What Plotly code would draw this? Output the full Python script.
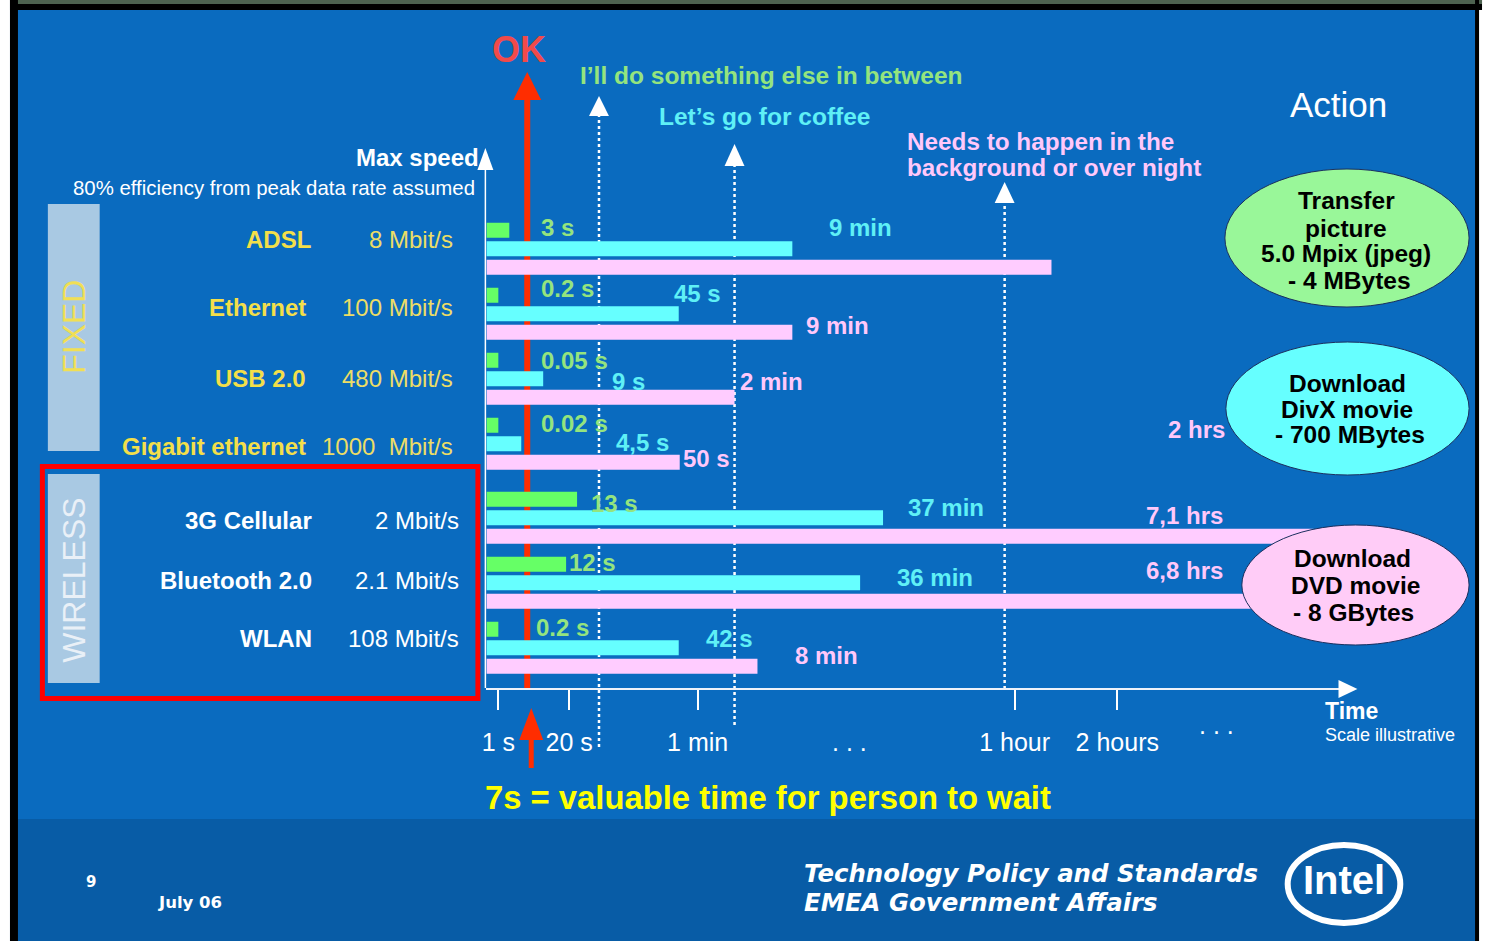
import plotly.graph_objects as go

W, H = 1490, 941

# ---- data -----------------------------------------------------------------
techs = ["ADSL", "Ethernet", "USB 2.0", "Gigabit ethernet",
         "3G Cellular", "Bluetooth 2.0", "WLAN"]
speeds = ["8 Mbit/s", "100 Mbit/s", "480 Mbit/s", "1000  Mbit/s",
          "2 Mbit/s", "2.1 Mbit/s", "108 Mbit/s"]
is_wireless = [False, False, False, False, True, True, True]

# transfer times as printed next to the bars
picture_time = ["3 s", "0.2 s", "0.05 s", "0.02 s", "13 s", "12 s", "0.2 s"]
divx_time = ["9 min", "45 s", "9 s", "4,5 s", "37 min", "36 min", "42 s"]
dvd_time = ["2 hrs", "9 min", "2 min", "50 s", "7,1 hrs", "6,8 hrs", "8 min"]

# bar lengths on the illustrative (non-linear) time scale
picture_len = [23, 12, 12, 12, 91, 80, 12]
divx_len = [307, 193, 57, 35, 398, 375, 193]
dvd_len = [567, 307, 249, 194, 830, 800, 272]

# time axis ticks on the same illustrative scale
tick_vals = [12, 83, 212, 530, 633]
tick_text = ["1 s", "20 s", "1 min", "1 hour", "2 hours"]

# ---- styling --------------------------------------------------------------
BG = "#0a6bbf"
FOOT = "#085ca6"
GREEN_BAR, CYAN_BAR, PINK_BAR = "#66ff66", "#66ffff", "#ffccff"
GREEN_TXT, CYAN_TXT, PINK_TXT = "#94e47e", "#5ff0f6", "#ffc8fa"
YELLOW = "#f3df4a"
YELLOW_2 = "#ecdd66"
RED = "#ff2d00"
SANS = "Liberation Sans, Arial, sans-serif"
VERD = "DejaVu Sans, Verdana, sans-serif"

# wireless rows sit a little further down than the fixed ones
GROUP_GAP = 0.137
ROW_PX, ROW0_PX = 65.0, 248.75   # row pitch / first row centre on the page

# label anchors for the printed times (left x, centre y) in page pixels
picture_lbl = [(540, 227), (540, 288), (540, 361), (540, 423), (590, 503), (568, 562), (535, 627)]
divx_lbl = [(829, 227), (673, 293), (611, 381), (615, 443), (908, 508), (897, 577), (705, 638)]
dvd_lbl = [(1169, 429), (806, 325), (739, 381), (682, 459), (1147, 515), (1147, 570), (795, 655)]

X_OFF = 2  # horizontal page offset compensation


def px(x):
    return (x - X_OFF) / W


def py(y):
    return 1 - y / H


row_pos = [i + (GROUP_GAP if w else 0.0) for i, w in enumerate(is_wireless)]

fig = go.Figure()

series = [
    ("Transfer picture", picture_len, GREEN_BAR),
    ("Download DivX movie", divx_len, CYAN_BAR),
    ("Download DVD movie", dvd_len, PINK_BAR),
]
for name, vals, col in series:
    fig.add_trace(go.Bar(
        y=row_pos, x=vals, orientation="h", name=name,
        customdata=techs,
        marker=dict(color=col, line=dict(width=0)),
        hoverinfo="skip", showlegend=False,
    ))

shapes = []


def rect(x0, y0, x1, y1, fill, layer="below", line=None):
    shapes.append(dict(type="rect", xref="paper", yref="paper",
                       x0=px(x0), x1=px(x1), y0=py(y1), y1=py(y0),
                       fillcolor=fill, line=line or dict(width=0), layer=layer))


def vline(x, y0, y1, color, width, dash="solid", layer="below"):
    shapes.append(dict(type="line", xref="paper", yref="paper",
                       x0=px(x), x1=px(x), y0=py(y0), y1=py(y1),
                       line=dict(color=color, width=width, dash=dash), layer=layer))


def tri_up(cx, tip, base, half, color, layer="below"):
    path = (f"M {px(cx)} {py(tip)} L {px(cx + half)} {py(base)} "
            f"L {px(cx - half)} {py(base)} Z")
    shapes.append(dict(type="path", xref="paper", yref="paper", path=path,
                       fillcolor=color, line=dict(width=0), layer=layer))


def ellipse(x0, y0, x1, y1, fill, line, layer="above"):
    shapes.append(dict(type="circle", xref="paper", yref="paper",
                       x0=px(x0), x1=px(x1), y0=py(y1), y1=py(y0),
                       fillcolor=fill, line=line, layer=layer))


# slide frame and footer band
rect(15, 819, 1477, 941, FOOT)
rect(-5, 0, 7, 941, "white")
rect(1481, 0, 1500, 941, "white")
rect(7, 0, 1484, 10, "black")
rect(12, 0, 1484, 4, "#4d6250")
rect(7, 0, 15, 941, "black")
rect(1477, 0, 1481, 941, "black")

# FIXED / WIRELESS side boxes
rect(45, 204, 97, 451, "#a9c9e3")
rect(45, 474, 97, 683, "#a9c9e3")

# vertical "max speed" axis with arrow
vline(484, 168, 688, "white", 1.5)
tri_up(484, 148, 170, 8, "white")

# threshold markers
vline(526, 98, 688, RED, 6)
tri_up(526, 72, 100, 14, RED)
vline(598, 114, 748, "white", 2.5, dash="dot")
tri_up(598, 96, 116, 10, "white")
vline(734, 164, 726, "white", 2.5, dash="dot")
tri_up(734, 144, 166, 10, "white")
vline(1005, 200, 688, "white", 2.5, dash="dot")
tri_up(1005, 182, 203, 10, "white")

# time axis arrow head
shapes.append(dict(type="path", xref="paper", yref="paper",
                   path=(f"M {px(1359)} {py(689)} L {px(1340)} {py(680)} "
                         f"L {px(1340)} {py(698)} Z"),
                   fillcolor="white", line=dict(width=0), layer="above"))

# "7 s" pointer under the axis
vline(530, 738, 768, RED, 5, layer="above")
tri_up(530, 708, 740, 12, RED, layer="above")

# wireless group outline
shapes.append(dict(type="rect", xref="paper", yref="paper",
                   x0=px(39.5), x1=px(476.5), y0=py(698.5), y1=py(466.5),
                   line=dict(color="#ff0000", width=5), layer="above"))

# action ellipses
ellipse(1226, 169, 1471, 307, "#99f799", dict(color="#1b2f5e", width=1))
ellipse(1227, 342, 1471, 475, "#66ffff", dict(color="#1b2f5e", width=1))
ellipse(1243, 525, 1471, 645, "#ffccf7", dict(color="#1b2f5e", width=1))

# logo ring
ellipse(1289, 845, 1402, 923, "rgba(0,0,0,0)", dict(color="white", width=6))

annotations = []


def text(t, x, y, size, color, bold=False, anchor="left", family=SANS,
         italic=False, angle=0):
    annotations.append(dict(
        text=t, x=px(x), y=py(y), xref="paper", yref="paper",
        xanchor=anchor, yanchor="middle", showarrow=False, textangle=angle,
        borderpad=0, borderwidth=0,
        font=dict(size=size, color=color, family=family,
                  weight="bold" if bold else "normal",
                  style="italic" if italic else "normal"),
    ))


# headings above the chart
text("OK", 518, 50, 36, "#f14a4a", bold=True, anchor="center")
text("I’ll do something else in between", 579, 75, 24.5, GREEN_TXT, bold=True)
text("Let’s go for coffee", 658, 117, 24.5, CYAN_TXT, bold=True)
text("Needs to happen in the", 907, 141, 24.3, PINK_TXT, bold=True)
text("background or over night", 907, 167, 24.3, PINK_TXT, bold=True)
text("Action", 1340, 104, 35, "white", anchor="center")
text("Max speed", 478, 157, 24, "white", bold=True, anchor="right")
text("80% efficiency from peak data rate assumed", 474, 188, 20.4, "white",
     anchor="right")

# group captions
text("FIXED", 71, 327, 32, "#f0df55", anchor="center", angle=-90)
text("WIRELESS", 71, 580, 32, "#e9f0f7", anchor="center", angle=-90)

# technology names and speeds
row_y = [239, 308, 378, 447, 520, 580, 638]
for name, spd, wl, yy in zip(techs, speeds, is_wireless, row_y):
    if wl:
        text(name, 310, yy, 24, "white", bold=True, anchor="right")
        text(spd, 458, yy, 24, "white", anchor="right")
    else:
        text(name, 304 if name != "ADSL" else 309, yy, 24, YELLOW,
             bold=True, anchor="right")
        text(spd, 452, yy, 24, YELLOW_2, anchor="right")

# printed transfer times
for labels, anchors, col in [(picture_time, picture_lbl, GREEN_TXT),
                             (divx_time, divx_lbl, CYAN_TXT),
                             (dvd_time, dvd_lbl, PINK_TXT)]:
    for t, (lx, ly) in zip(labels, anchors):
        text(t, lx, ly, 24, col, bold=True)

# ellipse captions
for t, cx, cy in [("Transfer", 1348, 201), ("picture", 1348, 228),
                  ("5.0 Mpix (jpeg)", 1348, 254), ("- 4 MBytes", 1351, 280),
                  ("Download", 1349, 383), ("DivX movie", 1349, 409),
                  ("- 700 MBytes", 1352, 435),
                  ("Download", 1354, 558), ("DVD movie", 1357, 585),
                  ("- 8 GBytes", 1355, 612)]:
    text(t, cx, cy, 24.5, "black", bold=True, anchor="center")

# extra axis captions
text(". . .", 849, 742, 25, "white", anchor="center")
text(". . .", 1218, 725, 25, "white", anchor="center")
text("Time", 1326, 711, 23, "white", bold=True)
text("Scale illustrative", 1326, 735, 18, "white")
text("7s = valuable time for person to wait", 484, 797, 32.8, "#ffff00", bold=True)

# footer
text("9", 88, 882, 15, "white", bold=True, anchor="center", family=VERD)
text("July 06", 156, 902, 16.5, "white", bold=True, family=VERD)
text("Technology Policy and Standards", 804, 873, 24.4, "white", bold=True,
     italic=True, family=VERD)
text("EMEA Government Affairs", 804, 902, 24.4, "white", bold=True,
     italic=True, family=VERD)
text("Intel", 1346, 880, 40, "white", bold=True, anchor="center",
     family="Liberation Sans Narrow, Liberation Sans, sans-serif")

# vertical extent of the bar rows on the page
y_lo, y_hi = -0.5, row_pos[-1] + 0.5
top_px = ROW0_PX + ROW_PX * y_lo
bot_px = ROW0_PX + ROW_PX * y_hi

fig.update_layout(
    width=W, height=H,
    margin=dict(l=0, r=0, t=0, b=0),
    paper_bgcolor=BG, plot_bgcolor="rgba(0,0,0,0)",
    barmode="group", bargap=0.146, bargroupgap=0.19,
    showlegend=False,
    xaxis=dict(
        domain=[px(485), px(1345)], range=[0, 860],
        anchor="free", position=py(689),
        showline=True, linecolor="#eef2fa", linewidth=2,
        ticks="outside", ticklen=20, tickwidth=1.5, tickcolor="white",
        tickvals=tick_vals, ticktext=tick_text, ticklabelstandoff=11,
        tickfont=dict(size=25, color="white", family=SANS),
        showgrid=False, zeroline=False, fixedrange=True,
    ),
    yaxis=dict(
        range=[y_hi, y_lo], domain=[py(bot_px), py(top_px)],
        tickvals=row_pos, ticktext=techs,
        visible=False, fixedrange=True,
    ),
    shapes=shapes,
    annotations=annotations,
)

fig.write_html("out.html")
